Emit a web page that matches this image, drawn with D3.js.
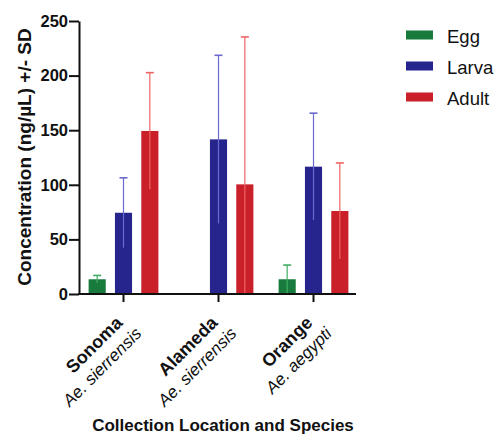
<!DOCTYPE html>
<html>
<head>
<meta charset="utf-8">
<script src="https://cdn.jsdelivr.net/npm/d3@7"></script>
<style>
  html, body { margin: 0; padding: 0; background: #ffffff; }
  svg { display: block; font-family: "Liberation Sans", Arial, Helvetica, sans-serif; }
</style>
</head>
<body>
<svg id="chart" width="496" height="436"></svg>
<script>
// Collection sites and the species collected there
const locations = ["Sonoma", "Alameda", "Orange"];
const species = ["Ae. sierrensis", "Ae. sierrensis", "Ae. aegypti"];

// Life stages shown as grouped bars
const stages = ["Egg", "Larva", "Adult"];

// Mean concentration (ng/µL) per site, one array per life stage (null = not collected)
const eggMean = [13.5, null, 13.5];
const larvaMean = [74.4, 141.6, 116.6];
const adultMean = [149.3, 100.4, 76];

// Standard deviations matching the means above
const eggSD = [3.5, null, 13];
const larvaSD = [32, 77, 49];
const adultSD = [53.4, 135, 44];

// Y axis ticks
const yTicks = [0, 50, 100, 150, 200, 250];

const stageColor = { Egg: "#187a3c", Larva: "#26258d", Adult: "#c9202a" };
const whiskerColor = { Egg: "#3fae64", Larva: "#6a6ad2", Adult: "#f06464" };

const means = { Egg: eggMean, Larva: larvaMean, Adult: adultMean };
const sds = { Egg: eggSD, Larva: larvaSD, Adult: adultSD };

const svg = d3.select("#chart");

const axisLeftX = 79, axisRightX = 356, y0 = 294, yTop = 21;

const y = d3.scaleLinear().domain([0, 250]).range([y0, yTop]);
const x0 = d3.scaleBand().domain(locations).range([76, 361]).paddingInner(0).paddingOuter(0);
const x1 = d3.scaleBand().domain(stages)
  .range([-39.5, 39.5]).paddingInner(0.35).paddingOuter(0.175);

// Bars with SD whiskers
const groups = svg.append("g").selectAll("g")
  .data(locations)
  .join("g")
  .attr("transform", d => `translate(${x0(d) + x0.bandwidth() / 2},0)`);

groups.each(function(loc, i) {
  const g = d3.select(this);
  stages.forEach(s => {
    const m = means[s][i];
    if (m == null) return;
    const sd = sds[s][i];
    const bx = x1(s), bw = x1.bandwidth();
    g.append("rect")
      .attr("x", bx).attr("width", bw)
      .attr("y", y(m)).attr("height", y(0) - y(m))
      .attr("fill", stageColor[s]);
    const cx = bx + bw / 2;
    g.append("line")
      .attr("x1", cx).attr("x2", cx)
      .attr("y1", y(Math.max(0, m - sd))).attr("y2", y(m + sd))
      .attr("stroke", whiskerColor[s]).attr("stroke-width", 1.2);
    g.append("line")
      .attr("x1", cx - 4).attr("x2", cx + 4)
      .attr("y1", y(m + sd)).attr("y2", y(m + sd))
      .attr("stroke", whiskerColor[s]).attr("stroke-width", 1.6);
  });
});

// Y axis
const yAxis = svg.append("g")
  .attr("transform", `translate(${axisLeftX},0)`)
  .call(d3.axisLeft(y).tickValues(yTicks).tickSize(10).tickSizeOuter(0));
yAxis.select(".domain").attr("stroke", "#111").attr("stroke-width", 2);
yAxis.selectAll(".tick line").attr("stroke", "#111").attr("stroke-width", 2);
yAxis.selectAll(".tick text")
  .attr("x", -11)
  .attr("fill", "#111")
  .style("font-size", "16.5px").style("font-weight", "bold");

// X axis
const xAxis = svg.append("g")
  .attr("transform", `translate(0,${y0})`)
  .call(d3.axisBottom(x0).tickSize(8).tickSizeOuter(0));
xAxis.select(".domain").remove();
xAxis.append("line")
  .attr("x1", axisLeftX - 1).attr("x2", axisRightX)
  .attr("y1", 0).attr("y2", 0)
  .attr("stroke", "#111").attr("stroke-width", 2);
xAxis.selectAll(".tick line").attr("stroke", "#111").attr("stroke-width", 2);
xAxis.selectAll(".tick text").remove();

// Two-line rotated category labels: location (bold) and species (italic)
xAxis.selectAll(".tick").each(function(d, i) {
  const t = d3.select(this).append("text")
    .attr("transform", "translate(0,30) rotate(-45)")
    .attr("text-anchor", "end")
    .attr("fill", "#111");
  t.append("tspan")
    .attr("x", 0).attr("y", 0)
    .style("font-size", "18px").style("font-weight", "bold")
    .text(locations[i]);
  t.append("tspan")
    .attr("x", 6).attr("y", 21)
    .style("font-size", "17px").style("font-style", "italic")
    .text(species[i]);
});

// Axis titles
svg.append("text")
  .attr("transform", `translate(31,${157}) rotate(-90)`)
  .attr("text-anchor", "middle")
  .attr("fill", "#111")
  .style("font-size", "19px").style("font-weight", "bold")
  .text("Concentration (ng/µL) +/- SD");

svg.append("text")
  .attr("x", 223).attr("y", 431)
  .attr("text-anchor", "middle")
  .attr("fill", "#111")
  .style("font-size", "17px").style("font-weight", "bold")
  .text("Collection Location and Species");

// Legend
const legend = svg.append("g").selectAll("g")
  .data(stages)
  .join("g")
  .attr("transform", (d, i) => `translate(406,${35 + i * 31})`);
legend.append("rect")
  .attr("x", 0).attr("y", -4.5).attr("width", 27).attr("height", 9)
  .attr("fill", d => stageColor[d]);
legend.append("text")
  .attr("x", 41).attr("y", 2).attr("dy", "0.35em")
  .attr("fill", "#111")
  .style("font-size", "18.5px")
  .text(d => d);
</script>
</body>
</html>
